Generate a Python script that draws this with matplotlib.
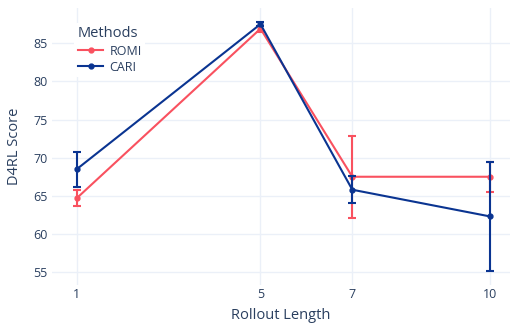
import matplotlib
matplotlib.use("Agg")
import matplotlib.pyplot as plt
from matplotlib.lines import Line2D

rollout = [1, 5, 7, 10]
romi_mean = [64.7, 86.9, 67.5, 67.5]
romi_err = [1.0, 0.4, 5.4, 1.95]
cari_mean = [68.5, 87.5, 65.8, 62.3]
cari_err = [2.3, 0.3, 1.8, 7.15]
xticks = [1, 5, 7, 10]
yticks = [55, 60, 65, 70, 75, 80, 85]

plt.rcParams['font.family'] = ['Open Sans', 'DejaVu Sans']
txt = '#2a3f5f'
fig = plt.figure(figsize=(5.12, 3.24), dpi=100)
ax = fig.add_axes([0.1016, 0.12, 0.895, 0.855])

romi_c = '#F9515F'
cari_c = '#0A3491'
ax.errorbar(rollout, romi_mean, yerr=romi_err, color=romi_c, lw=1.5, marker='o', ms=3.5,
            capsize=3, capthick=1.5, elinewidth=1.5, zorder=3)
ax.errorbar(rollout, cari_mean, yerr=cari_err, color=cari_c, lw=1.5, marker='o', ms=3.5,
            capsize=3, capthick=1.5, elinewidth=1.5, zorder=4)

ax.set_xlim(0.46, 10.44)
ax.set_ylim(53.3, 89.6)
ax.set_xticks(xticks)
ax.set_yticks(yticks)
ax.grid(True, color='#EBF0F8', lw=1)
ax.set_axisbelow(True)
for s in ax.spines.values():
    s.set_visible(False)
ax.tick_params(length=0, colors=txt, labelsize=9)
ax.tick_params(axis='x', pad=2)
ax.tick_params(axis='y', pad=3)
ax.set_xlabel('Rollout Length', color=txt, fontsize=10.5, labelpad=5)
ax.set_ylabel('D4RL Score', color=txt, fontsize=10.5, labelpad=8)

handles = [Line2D([], [], color=romi_c, lw=1.5, marker='o', ms=3.5),
           Line2D([], [], color=cari_c, lw=1.5, marker='o', ms=3.5)]
leg = ax.legend(handles, ['ROMI', 'CARI'], title='Methods', loc='upper left',
                bbox_to_anchor=(0.035, 0.97),
                frameon=True, fontsize=9, title_fontsize=10.5, handlelength=2.0,
                borderpad=0.3, labelspacing=0.25, handletextpad=0.5)
leg.get_frame().set_edgecolor('none')
leg.get_frame().set_facecolor('white')
leg.get_frame().set_alpha(1.0)
leg._legend_box.align = 'left'
leg.get_title().set_color(txt)
for t in leg.get_texts():
    t.set_color(txt)

fig.savefig('out.png', dpi=100)
